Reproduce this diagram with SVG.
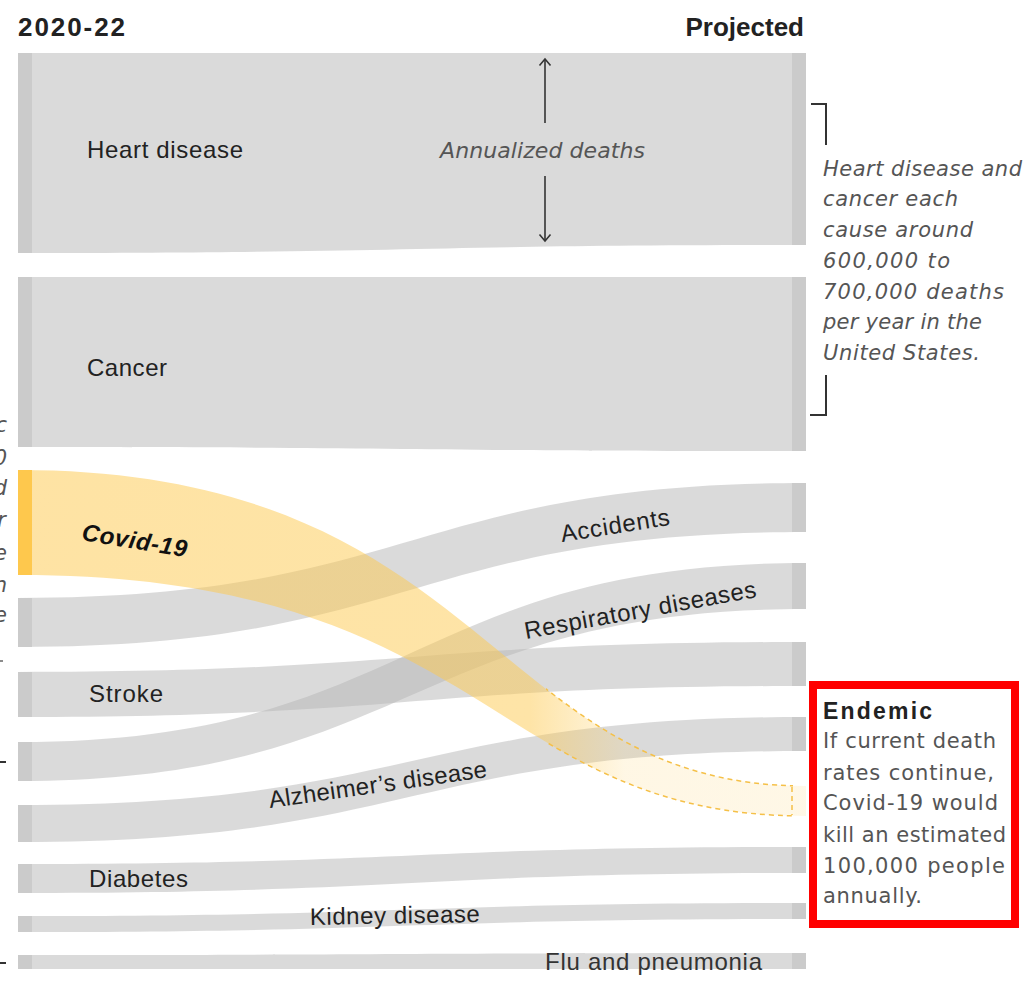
<svg xmlns="http://www.w3.org/2000/svg" width="1031" height="986" viewBox="0 0 1031 986">
<defs>
<style>
.band{fill:#b5b5b5;fill-opacity:.5}
.strip{fill:#cbcbcb}
.lbl{font-family:"Liberation Sans",Arial,sans-serif;font-size:24px;fill:#222}
.hdr{font-family:"Liberation Sans",Arial,sans-serif;font-size:26px;font-weight:bold;fill:#222}
.ann{font-family:"DejaVu Sans",sans-serif;font-size:21px;font-style:italic;fill:#555}
.end{font-family:"DejaVu Sans",sans-serif;font-size:21px;fill:#555}
.ink{stroke:#333;stroke-width:2;fill:none}
.dash{stroke:#f5c048;stroke-width:1.5;stroke-dasharray:5 4;fill:none}
</style>
<linearGradient id="covidFade" gradientUnits="userSpaceOnUse" x1="18" y1="0" x2="806" y2="0">
<stop offset="0" stop-color="#fdc94f" stop-opacity=".52"/>
<stop offset=".65" stop-color="#fdc94f" stop-opacity=".5"/>
<stop offset=".77" stop-color="#fdc94f" stop-opacity=".15"/>
<stop offset="1" stop-color="#fdc94f" stop-opacity=".14"/>
</linearGradient>
<clipPath id="dashClip"><rect x="546" y="600" width="247" height="260"/></clipPath>
</defs>
<rect width="1031" height="986" fill="#fff"/>

<g id="headers">
<text class="hdr" x="18" y="36" textLength="107">2020-22</text>
<text class="hdr" x="804" y="36" text-anchor="end">Projected</text>
</g>

<g id="connectors">
<path class="band" d="M18,53 L806,53 L806,245 C412,245 412,253 18,253 Z"/>
<path class="band" d="M18,277 L806,277 L806,451 C412,451 412,447 18,447 Z"/>
<path class="band" d="M18,598 C412,598 412,483 806,483 L806,532 C412,532 412,647 18,647 Z"/>
<path class="band" d="M18,742 C412,742 412,563 806,563 L806,609 C412,609 412,781 18,781 Z"/>
<path class="band" d="M18,672 C412,672 412,642 806,642 L806,686 C412,686 412,717 18,717 Z"/>
<path class="band" d="M18,805 C412,805 412,717 806,717 L806,751 C412,751 412,842 18,842 Z"/>
<path class="band" d="M18,864 C412,864 412,847 806,847 L806,873 C412,873 412,893 18,893 Z"/>
<path class="band" d="M18,916 C412,916 412,903 806,903 L806,919 C412,919 412,932 18,932 Z"/>
<path class="band" d="M18,955 C412,955 412,953 806,953 L806,969 C412,969 412,969 18,969 Z"/>
<path fill="url(#covidFade)" d="M18,470 C490,470 490,786 806,786 L806,816 C490,816 490,575 18,575 Z"/>
<g clip-path="url(#dashClip)">
<path class="dash" d="M18,470 C490,470 490,786 806,786"/>
<path class="dash" d="M18,575 C490,575 490,816 806,816"/>
</g>
<line class="dash" x1="792" y1="787" x2="792" y2="815"/>
</g>

<g id="heart">
<rect class="strip" x="18" y="53" width="14" height="200"/>
<rect class="strip" x="792" y="53" width="14" height="192"/>
<text class="lbl" x="87" y="158" textLength="156">Heart disease</text>
</g>
<g id="cancer">
<rect class="strip" x="18" y="277" width="14" height="170"/>
<rect class="strip" x="792" y="277" width="14" height="174"/>
<text class="lbl" x="87" y="376" textLength="80">Cancer</text>
</g>
<g id="covid">
<rect x="18" y="470" width="14" height="105" fill="#fec84d"/>
<text class="lbl" transform="translate(81,540) rotate(9.3)" textLength="106" style="font-weight:bold;font-style:italic;fill:#111">Covid-19</text>
</g>
<g id="accidents">
<rect class="strip" x="18" y="598" width="14" height="49"/>
<rect class="strip" x="792" y="483" width="14" height="49"/>
<text class="lbl" transform="translate(562,542) rotate(-9)" textLength="110">Accidents</text>
</g>
<g id="respiratory">
<rect class="strip" x="18" y="742" width="14" height="39"/>
<rect class="strip" x="792" y="563" width="14" height="46"/>
<text class="lbl" transform="translate(526,639) rotate(-10.3)" textLength="235">Respiratory diseases</text>
</g>
<g id="stroke">
<rect class="strip" x="18" y="672" width="14" height="45"/>
<rect class="strip" x="792" y="642" width="14" height="44"/>
<text class="lbl" x="89" y="702" textLength="74">Stroke</text>
</g>
<g id="alzheimers">
<rect class="strip" x="18" y="805" width="14" height="37"/>
<rect class="strip" x="792" y="717" width="14" height="34"/>
<text class="lbl" transform="translate(270,808) rotate(-8.1)" textLength="220">Alzheimer’s disease</text>
</g>
<g id="diabetes">
<rect class="strip" x="18" y="864" width="14" height="29"/>
<rect class="strip" x="792" y="847" width="14" height="26"/>
<text class="lbl" x="89" y="887" textLength="99">Diabetes</text>
</g>
<g id="kidney">
<rect class="strip" x="18" y="916" width="14" height="16"/>
<rect class="strip" x="792" y="903" width="14" height="16"/>
<text class="lbl" transform="translate(310,925) rotate(-1)" textLength="170">Kidney disease</text>
</g>
<g id="flu">
<rect class="strip" x="18" y="955" width="14" height="14"/>
<rect class="strip" x="792" y="953" width="14" height="16"/>
<text class="lbl" x="545" y="970" textLength="217" style="fill:#333">Flu and pneumonia</text>
</g>

<g id="scale-note">
<line class="ink" x1="545" y1="60" x2="545" y2="123" style="stroke-width:1.6"/>
<polyline class="ink" points="539.5,65.5 545,59 550.5,65.5" style="stroke-width:1.6"/>
<line class="ink" x1="545" y1="176" x2="545" y2="240" style="stroke-width:1.6"/>
<polyline class="ink" points="539.5,234.5 545,241 550.5,234.5" style="stroke-width:1.6"/>
<text class="ann" x="440" y="158" textLength="205" style="font-size:22px">Annualized deaths</text>
</g>

<g id="top-note">
<polyline class="ink" points="811,104 826,104 826,145"/>
<polyline class="ink" points="826,375 826,415 810,415"/>
<text class="ann" x="823" y="176" textLength="199">Heart disease and</text>
<text class="ann" x="823" y="206" textLength="135">cancer each</text>
<text class="ann" x="823" y="237" textLength="150">cause around</text>
<text class="ann" x="823" y="268" textLength="127">600,000 to</text>
<text class="ann" x="823" y="299" textLength="181">700,000 deaths</text>
<text class="ann" x="823" y="329" textLength="159">per year in the</text>
<text class="ann" x="823" y="360" textLength="157">United States.</text>
</g>

<g id="endemic">
<rect x="813" y="685" width="202" height="239" fill="#fff" stroke="#ff0000" stroke-width="8"/>
<text class="lbl" x="823" y="719" textLength="109" style="font-weight:bold;fill:#222;font-size:23px">Endemic</text>
<text class="end" x="823" y="748" textLength="173">If current death</text>
<text class="end" x="823" y="780" textLength="171">rates continue,</text>
<text class="end" x="823" y="810" textLength="175">Covid-19 would</text>
<text class="end" x="823" y="842" textLength="183">kill an estimated</text>
<text class="end" x="823" y="873" textLength="182">100,000 people</text>
<text class="end" x="823" y="903" textLength="99">annually.</text>
</g>

<g id="left-edge">
<text class="ann" x="7" y="432" text-anchor="end">c</text>
<text class="ann" x="7" y="465" text-anchor="end">0</text>
<text class="ann" x="7" y="495" text-anchor="end">d</text>
<text class="ann" x="6" y="527" text-anchor="end">r</text>
<text class="ann" x="7" y="560" text-anchor="end">e</text>
<text class="ann" x="7" y="592" text-anchor="end">n</text>
<text class="ann" x="7" y="622" text-anchor="end">e</text>
<line x1="0" y1="661" x2="3" y2="661" stroke="#666" stroke-width="1.5"/>
<line x1="0" y1="762" x2="6" y2="762" stroke="#333" stroke-width="2"/>
<line x1="0" y1="963" x2="6" y2="963" stroke="#333" stroke-width="2"/>
</g>
</svg>
